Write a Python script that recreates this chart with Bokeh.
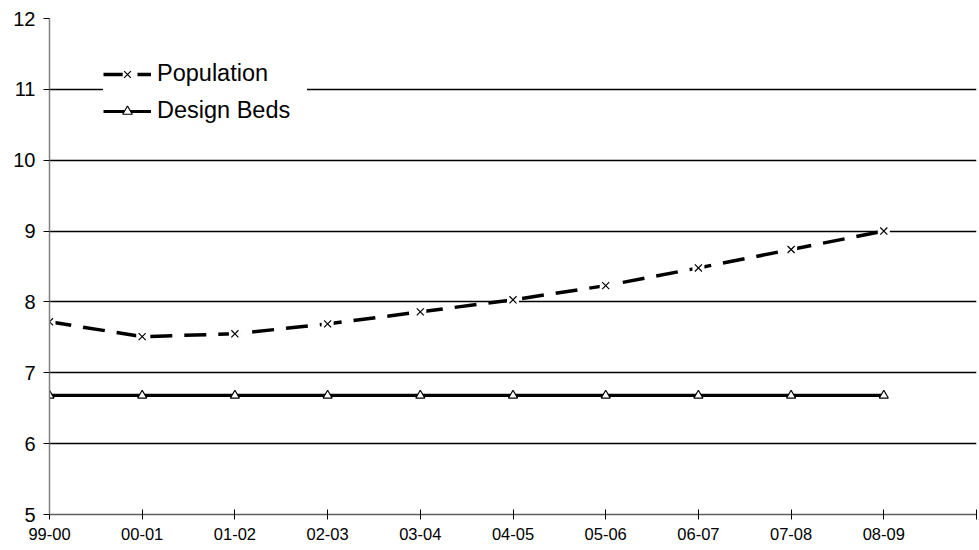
from bokeh.plotting import figure
from bokeh.models import Range1d, FixedTicker, Legend, LegendItem
from bokeh.embed import file_html
from bokeh.resources import INLINE

years = ["99-00", "00-01", "01-02", "02-03", "03-04", "04-05", "05-06", "06-07", "07-08", "08-09"]
population = [7.72, 7.51, 7.55, 7.69, 7.86, 8.03, 8.23, 8.48, 8.74, 9.00]
design_beds = [6.68, 6.68, 6.68, 6.68, 6.68, 6.68, 6.68, 6.68, 6.68, 6.68]
y_ticks = [5, 6, 7, 8, 9, 10, 11, 12]

xs = list(range(len(years)))
FONT = "Liberation Sans"

p = figure(width=979, height=550, output_backend="svg", toolbar_location=None,
           x_range=Range1d(0, len(years)), y_range=Range1d(y_ticks[0], y_ticks[-1]),
           min_border_left=49, min_border_top=18, min_border_right=3, min_border_bottom=36)
p.outline_line_color = None
p.background_fill_color = "white"
p.border_fill_color = "white"

# grid
p.xgrid.grid_line_color = None
p.ygrid.ticker = FixedTicker(ticks=y_ticks[1:])
p.ygrid.grid_line_color = "black"
p.ygrid.grid_line_width = 1.6

# axes
p.yaxis.ticker = FixedTicker(ticks=y_ticks)
p.yaxis.axis_line_color = "#808080"
p.yaxis.axis_line_width = 1.5
p.yaxis.major_tick_line_color = "black"
p.yaxis.major_tick_out = 6
p.yaxis.major_tick_in = 0
p.yaxis.minor_tick_line_color = None
p.yaxis.major_label_text_font = FONT
p.yaxis.major_label_text_font_size = "20px"
p.yaxis.major_label_text_color = "black"
p.yaxis.major_label_standoff = 8

p.xaxis.ticker = FixedTicker(ticks=list(range(len(years) + 1)))
overrides = {i: years[i] for i in xs}
overrides[len(years)] = ""
p.xaxis.major_label_overrides = overrides
p.xaxis.axis_line_color = "#606060"
p.xaxis.axis_line_width = 1.5
p.xaxis.major_tick_line_color = "black"
p.xaxis.major_tick_out = 5
p.xaxis.major_tick_in = 5
p.xaxis.minor_tick_line_color = None
p.xaxis.major_label_text_font = FONT
p.xaxis.major_label_text_font_size = "16.5px"
p.xaxis.major_label_text_color = "black"
p.xaxis.major_label_standoff = 8

# series
pop_line = p.line(xs, population, line_color="black", line_width=3.5, line_dash="22 12")
pop_bg = p.scatter(xs, population, marker="square", size=12, fill_color="white", line_color=None)
pop_mk = p.scatter(xs, population, marker="x", size=10, line_color="black", line_width=1.2)

bed_line = p.line(xs, design_beds, line_color="black", line_width=3.2)
bed_mk = p.scatter(xs, design_beds, marker="triangle", size=9, fill_color="white",
                   line_color="black", line_width=1.2)

legend = Legend(items=[
    LegendItem(label="Population", renderers=[pop_line, pop_bg, pop_mk]),
    LegendItem(label="Design Beds", renderers=[bed_line, bed_mk]),
], location=(54, 390))
legend.label_text_font = FONT
legend.label_text_font_size = "23.5px"
legend.label_text_color = "black"
legend.label_standoff = 6
legend.label_width = 150
legend.glyph_width = 48
legend.glyph_height = 24
legend.label_height = 24
legend.spacing = 10
legend.padding = 17
legend.margin = 0
legend.border_line_color = None
legend.background_fill_color = "white"
legend.background_fill_alpha = 1.0
p.add_layout(legend)

open("out.html", "w").write(file_html(p, INLINE))
